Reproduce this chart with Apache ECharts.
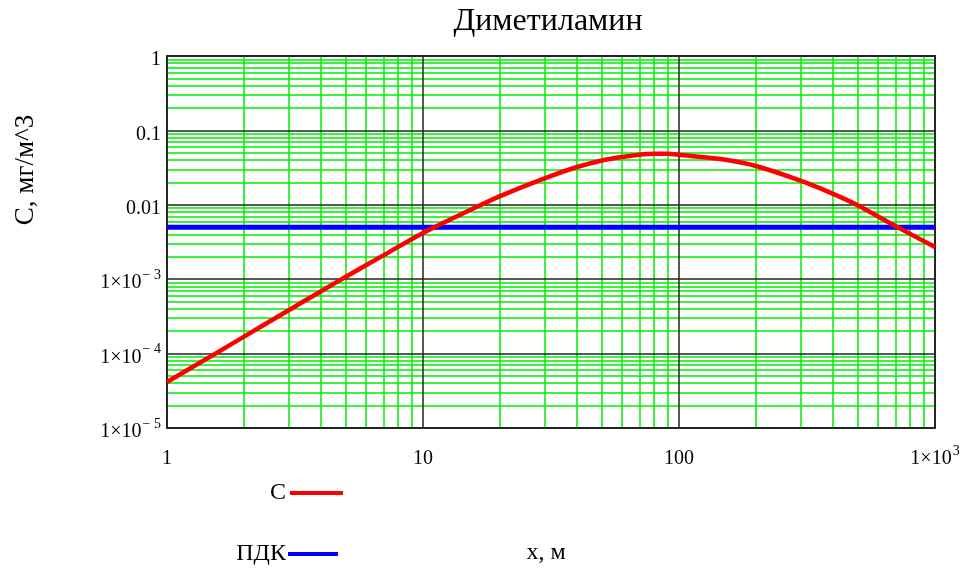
<!DOCTYPE html>
<html>
<head>
<meta charset="utf-8">
<script src="https://cdn.jsdelivr.net/npm/echarts@6/dist/echarts.min.js"></script>
<style>
html,body{margin:0;padding:0;background:#fff;}
#chart{width:971px;height:572px;}
</style>
</head>
<body>
<div id="chart"></div>
<script>
// ---- data ----
const distance = [1, 1.5, 2, 3, 4, 5, 7, 10, 15, 20, 30, 40, 50, 60, 70, 80, 90, 100, 150, 200, 300, 400, 500, 700, 1000];
const concentration = [4.15e-5, 9.4e-5, 1.69e-4, 3.86e-4, 6.9e-4, 1.08e-3, 2.09e-3, 4.18e-3, 8.26e-3, 0.0131, 0.0229, 0.0322, 0.0394, 0.0439, 0.0470, 0.0484, 0.0484, 0.0470, 0.0406, 0.0332, 0.0209, 0.0140, 0.0098, 0.00519, 0.00271];
const pdkValue = 0.005;
const xRange = [1, 1000];
const yRange = [1e-5, 1];
// tick labels: [base, superscript] keyed by decade exponent
const xTickLabels = {0: ['1', ''], 1: ['10', ''], 2: ['100', ''], 3: ['1\u00d710', '3']};
const yTickLabels = {0: ['1', ''], '-1': ['0.1', ''], '-2': ['0.01', ''], '-3': ['1\u00d710', '\u2212 3'], '-4': ['1\u00d710', '\u2212 4'], '-5': ['1\u00d710', '\u2212 5']};
const titleText = 'Диметиламин';
const yName = 'C, мг/м^3';
const xName = 'x, м';
const seriesNames = ['C', 'ПДК'];

const FONT = "'Liberation Serif', 'Times New Roman', serif";

function decadesBetween(a, b) {
  const out = [];
  for (let e = Math.round(Math.log10(a)); e <= Math.round(Math.log10(b)); e++) out.push(Math.pow(10, e));
  return out;
}
function minorBetween(a, b) {
  const out = [];
  for (let e = Math.round(Math.log10(a)); e < Math.round(Math.log10(b)); e++) {
    for (let d = 2; d <= 9; d++) out.push(+(d * Math.pow(10, e)).toPrecision(6));
  }
  return out;
}
const xMinor = minorBetween(xRange[0], xRange[1]);
const yMinor = minorBetween(yRange[0], yRange[1]);
const xMajor = decadesBetween(xRange[0], xRange[1]);
const yMajor = decadesBetween(yRange[0], yRange[1]);

function fmt(table) {
  return function (v) {
    const e = Math.round(Math.log10(v));
    const t = table[e];
    if (!t) return '';
    return t[1] ? '{b|' + t[0] + '}{s|' + t[1] + '}' : '{b|' + t[0] + '}';
  };
}
const rich = {
  b: {fontFamily: FONT, fontSize: 20, color: '#000', lineHeight: 22, padding: [8, 0, 0, 0]},
  s: {fontFamily: FONT, fontSize: 14, color: '#000', lineHeight: 14, verticalAlign: 'top', padding: [0, 0, 0, 1]}
};

const chart = echarts.init(document.getElementById('chart'));
const option = {
  animation: false,
  backgroundColor: '#fff',
  grid: {left: 167, right: 36, top: 56, bottom: 144, show: true, borderColor: '#333', borderWidth: 2, backgroundColor: 'transparent'},
  xAxis: {
    type: 'log', logBase: 10, min: xRange[0], max: xRange[1], splitNumber: 3,
    axisLine: {show: false}, axisTick: {show: false}, splitLine: {show: false},
    axisLabel: {formatter: fmt(xTickLabels), rich: rich, margin: 16, showMinLabel: true, showMaxLabel: true}
  },
  yAxis: {
    type: 'log', logBase: 10, min: yRange[0], max: yRange[1], splitNumber: 5,
    axisLine: {show: false}, axisTick: {show: false}, splitLine: {show: false},
    axisLabel: {formatter: fmt(yTickLabels), rich: rich, margin: 6, showMinLabel: true, showMaxLabel: true}
  },
  series: [
    {
      type: 'line', name: 'minorGrid', data: [[xRange[0], yRange[0]]], showSymbol: false, symbol: 'none',
      lineStyle: {opacity: 0}, silent: true, z: 1,
      markLine: {
        silent: true, symbol: ['none', 'none'], label: {show: false}, animation: false, precision: 12,
        lineStyle: {color: '#00ee00', width: 1.5, type: 'solid'},
        data: xMinor.map(v => ({xAxis: v})).concat(yMinor.map(v => ({yAxis: v})))
      }
    },
    {
      type: 'line', name: 'majorGrid', data: [[xRange[0], yRange[0]]], showSymbol: false, symbol: 'none',
      lineStyle: {opacity: 0}, silent: true, z: 2,
      markLine: {
        silent: true, symbol: ['none', 'none'], label: {show: false}, animation: false, precision: 12,
        lineStyle: {color: '#222', width: 1.5, type: 'solid'},
        data: xMajor.map(v => ({xAxis: v})).concat(yMajor.map(v => ({yAxis: v})))
      }
    },
    {
      type: 'line', name: seriesNames[1], data: [[xRange[0], pdkValue], [xRange[1], pdkValue]],
      showSymbol: false, symbol: 'none', lineStyle: {color: '#0000ff', width: 5}, z: 5
    },
    {
      type: 'line', name: seriesNames[0], data: distance.map((x, i) => [x, concentration[i]]),
      showSymbol: false, symbol: 'none', smooth: 0.3,
      lineStyle: {color: '#ff0000', width: 4.5}, z: 6
    }
  ],
  graphic: [
    {type: 'text', x: 548, y: 22, style: {text: titleText, font: '32px ' + FONT, fill: '#000', textAlign: 'center', textVerticalAlign: 'middle'}},
    {type: 'text', x: 26, y: 170, rotation: Math.PI / 2, style: {text: yName, font: '27px ' + FONT, fill: '#000', textAlign: 'center', textVerticalAlign: 'middle'}},
    {type: 'text', x: 546, y: 553, style: {text: xName, font: '24px ' + FONT, fill: '#000', textAlign: 'center', textVerticalAlign: 'middle'}},
    {type: 'text', x: 286, y: 493, style: {text: seriesNames[0], font: '24px ' + FONT, fill: '#000', textAlign: 'right', textVerticalAlign: 'middle'}},
    {type: 'line', shape: {x1: 290, y1: 493, x2: 343, y2: 493}, style: {stroke: '#ff0000', lineWidth: 4}},
    {type: 'text', x: 286, y: 554, style: {text: seriesNames[1], font: '24px ' + FONT, fill: '#000', textAlign: 'right', textVerticalAlign: 'middle'}},
    {type: 'line', shape: {x1: 288, y1: 554, x2: 338, y2: 554}, style: {stroke: '#0000ff', lineWidth: 4}}
  ]
};
chart.setOption(option);
</script>
</body>
</html>
